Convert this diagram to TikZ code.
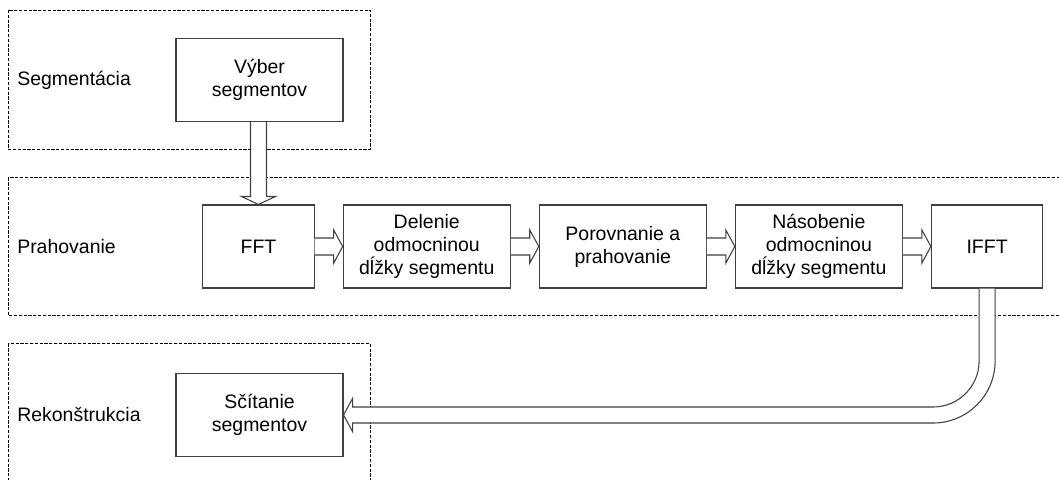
\documentclass[tikz,border=0pt]{standalone}
\usepackage{fontspec}
\setmainfont{Liberation Sans}
\usetikzlibrary{calc,
	positioning}

\tikzset{
	stepbox/.style={draw=black!75, line width=0.8pt, fill=white, inner sep=0pt,
		minimum height=62.25pt, align=center,
		font=\fontsize{14.6}{17.2}\selectfont},
	widebox/.style={stepbox, minimum width=125.25pt},
	narrowbox/.style={stepbox, minimum width=83.5pt},
	zone/.style={draw=black, line width=0.5pt, dash pattern=on 2.4pt off 1.2pt},
	zonelabel/.style={anchor=west, inner sep=0pt, font=\fontsize{14.6}{17.2}\selectfont},
	blockarrow/.style={draw=black!75, line width=0.8pt, fill=white, line join=miter}
}

\begin{document}
\begin{tikzpicture}[x=0.75pt, y=-0.75pt]
	\clip (0, 0) rectangle (1059, 479);
	% zones
	\draw[zone] (8, 10) rectangle (370.5, 149);
	\draw[zone] (8, 177.5) rectangle (1080, 315.5);
	\draw[zone] (8, 343.5) rectangle (370.5, 500);
	\node[zonelabel] (lseg) at (17, 80) {Segmentácia};
	\node[zonelabel] (lprah) at (17, 247) {Prahovanie};
	\node[zonelabel] (lrek) at (17, 414) {Rekonštrukcia};
	% blocks
	\node[widebox] (vyber) at (259.5, 80) {Výber\\segmentov};
	\node[narrowbox] (fft) at (258.5, 246.5) {FFT};
	\node[widebox, right=21pt of fft] (delenie) {Delenie\\odmocninou\\dĺžky segmentu};
	\node[widebox, right=21pt of delenie] (porov) {Porovnanie a\\prahovanie};
	\node[widebox, right=21pt of porov] (nasob) {Násobenie\\odmocninou\\dĺžky segmentu};
	\node[narrowbox, right=21pt of nasob] (ifft) {IFFT};
	\node[widebox] (scitanie) at (259.5, 415) {Sčítanie\\segmentov};
	% arrows
	\draw[blockarrow] ($(vyber.south -| fft.north)+(-8,0)$) -- ($(fft.north)+(-8,-8)$) -- ++(-9,0) -- (fft.north)
		-- ($(fft.north)+(17,-8)$) -- ++(-9,0) -- ($(vyber.south -| fft.north)+(8,0)$);
	\foreach \a/\b in {fft/delenie, delenie/porov, porov/nasob, nasob/ifft} {
		\draw[blockarrow] ($(\a.east)+(0,-8.5)$) -- ($(\b.west)+(-9,-8.5)$) -- ++(0,-8) -- (\b.west)
			-- ($(\b.west)+(-9,16.5)$) -- ++(0,-8) -- ($(\a.east)+(0,8.5)$);
	}
	\coordinate (bend) at (ifft.south |- scitanie.east);
	\draw[blockarrow] ($(ifft.south)+(8,0)$) -- ($(bend)+(8,-54)$) arc[start angle=0, end angle=90, radius=62]
		-- ($(scitanie.east)+(9,8)$) -- ++(0,8.5) -- (scitanie.east) -- ($(scitanie.east)+(9,-16.5)$) -- ++(0,8.5)
		-- ($(bend)+(-54,-8)$) arc[start angle=90, end angle=0, radius=46] -- ($(ifft.south)+(-8,0)$);
\end{tikzpicture}
\end{document}
